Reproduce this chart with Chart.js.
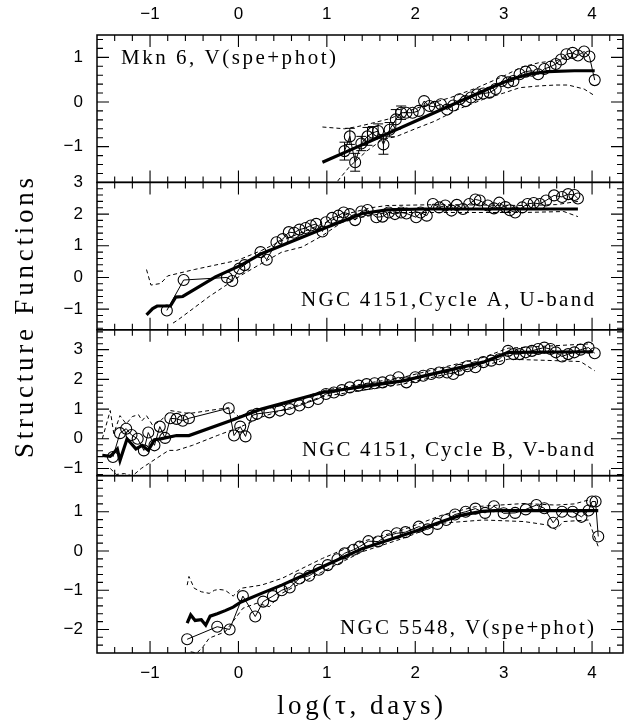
<!DOCTYPE html>
<html lang="en">
<head>
<meta charset="UTF-8">
<title>Structure Functions</title>
<script src="https://cdn.jsdelivr.net/npm/chart.js"></script>
<style>
  body { margin: 0; background: #fff; }
  #wrap { width: 633px; height: 726px; }
</style>
</head>
<body>
<div id="wrap"><canvas id="sfChart" width="633" height="726"></canvas></div>
<script>
// x range shared by all panels, log(tau, days)
const X_MIN = -1.6, X_MAX = 4.35;
const xTickValues = [-1, 0, 1, 2, 3, 4];

// ---- Mkn 6, V(spe+phot) ----
const mkn6X = [1.20,1.26,1.32,1.39,1.46,1.52,1.58,1.64,1.71,1.78,1.84,1.90,1.97,2.04,2.10,2.16,2.22,2.29,2.36,2.43,2.50,2.57,2.63,2.70,2.77,2.84,2.91,2.98,3.05,3.11,3.18,3.25,3.32,3.39,3.46,3.53,3.59,3.65,3.71,3.78,3.84,3.91,3.97,4.03];
const mkn6Y = [-1.10,-0.77,-1.35,-0.93,-0.77,-0.69,-0.65,-0.95,-0.62,-0.39,-0.24,-0.24,-0.24,-0.20,0.02,-0.09,-0.11,-0.05,-0.17,-0.08,0.06,0.02,0.10,0.17,0.19,0.21,0.29,0.47,0.44,0.47,0.62,0.68,0.70,0.62,0.74,0.79,0.85,0.95,1.07,1.10,1.04,1.13,1.02,0.49];
// error bars for the first points only
const mkn6Err = [0.20,0.18,0.20,0.16,0.20,0.14,0.16,0.22,0.16,0.22,0.15];
const mkn6Model = [[0.95,-1.35],[1.5,-0.87],[2.0,-0.43],[2.5,0.01],[2.9,0.36],[3.1,0.52],[3.3,0.63],[3.5,0.68],[3.8,0.70],[4.03,0.70]];
const mkn6Upper = [[0.95,-0.56],[1.2,-0.6],[1.35,-0.55],[1.5,-0.48],[1.7,-0.38],[1.9,-0.22],[2.1,-0.08],[2.4,0.1],[2.7,0.32],[3.0,0.58],[3.2,0.78],[3.4,0.88],[3.6,0.93],[3.72,1.0]];
const mkn6Lower = [[1.05,-2.05],[1.13,-1.75],[1.26,-1.44],[1.45,-1.1],[1.63,-0.84],[1.79,-0.77],[2.0,-0.6],[2.22,-0.43],[2.5,-0.15],[2.77,0.06],[3.0,0.2],[3.18,0.32],[3.4,0.36],[3.59,0.38],[3.73,0.38],[3.91,0.29],[4.03,0.14]];

// ---- NGC 4151, Cycle A, U-band ----
const ngcAX = [-0.81,-0.62,-0.13,-0.07,0.01,0.07,0.25,0.32,0.43,0.50,0.57,0.63,0.69,0.76,0.82,0.88,0.95,0.99,1.06,1.13,1.19,1.26,1.32,1.39,1.46,1.56,1.63,1.70,1.77,1.84,1.90,2.01,2.06,2.13,2.20,2.27,2.34,2.41,2.47,2.54,2.61,2.68,2.73,2.82,2.89,2.95,3.02,3.07,3.13,3.21,3.27,3.34,3.41,3.48,3.57,3.66,3.73,3.80,3.84];
const ngcAY = [-1.04,-0.08,0.0,-0.11,0.28,0.39,0.80,0.56,1.11,1.21,1.43,1.41,1.51,1.56,1.64,1.69,1.45,1.74,1.88,1.95,2.05,2.0,1.81,2.08,2.13,1.9,1.92,2.05,2.0,2.05,2.02,1.9,2.05,1.95,2.32,2.21,2.27,2.11,2.29,2.16,2.32,2.46,2.43,2.27,2.18,2.36,2.22,2.12,2.05,2.21,2.32,2.35,2.32,2.43,2.59,2.54,2.63,2.60,2.49];
const ngcAModel = [[-1.04,-1.18],[-0.97,-0.98],[-0.92,-0.9],[-0.77,-0.9],[-0.71,-0.62],[-0.63,-0.6],[-0.26,0.02],[0.03,0.39],[0.26,0.75],[0.49,1.01],[0.95,1.53],[1.40,2.02],[1.68,2.13],[2.09,2.16],[3.84,2.16]];
const ngcAUpper = [[-1.04,0.25],[-0.99,-0.24],[-0.88,-0.19],[-0.8,0.05],[-0.5,0.25],[-0.01,0.54],[0.26,0.85],[0.49,1.16],[0.95,1.69],[1.26,2.03],[1.5,2.2],[1.68,2.27],[2.31,2.3],[3.23,2.27],[3.6,2.3],[3.84,2.4]];
const ngcALower = [[-0.74,-1.44],[-0.68,-1.33],[-0.33,-0.6],[0.03,0.07],[0.26,0.44],[0.49,0.8],[0.72,0.96],[0.95,1.32],[1.17,1.74],[1.4,1.9],[1.68,2.05],[2.31,2.05],[3.23,2.05],[3.68,2.08],[3.84,1.92]];

// ---- NGC 4151, Cycle B, V-band ----
const ngcBX = [-1.42,-1.34,-1.27,-1.21,-1.14,-1.07,-1.02,-0.95,-0.89,-0.83,-0.77,-0.70,-0.63,-0.56,-0.11,-0.05,0.02,0.08,0.15,0.21,0.35,0.47,0.58,0.69,0.79,0.90,0.99,1.08,1.17,1.26,1.36,1.45,1.54,1.63,1.72,1.81,1.90,2.0,2.09,2.18,2.27,2.36,2.43,2.50,2.59,2.68,2.77,2.86,2.95,3.05,3.11,3.18,3.25,3.32,3.39,3.46,3.53,3.59,3.66,3.73,3.80,3.87,3.96,4.03];
const ngcBY = [-0.61,0.19,0.34,0.13,0.0,-0.39,0.21,-0.22,0.41,0.03,0.69,0.67,0.61,0.69,1.03,0.11,0.41,0.08,0.78,0.84,0.89,0.95,1.0,1.12,1.23,1.34,1.51,1.56,1.64,1.73,1.79,1.84,1.87,1.9,1.96,2.07,1.9,2.07,2.12,2.18,2.23,2.23,2.18,2.32,2.44,2.41,2.58,2.63,2.68,2.96,2.85,2.85,2.91,2.96,3.02,3.07,3.02,2.91,2.77,2.85,2.91,3.0,3.07,2.88];
const ngcBModel = [[-1.54,-0.56],[-1.45,-0.59],[-1.37,-0.34],[-1.34,-0.73],[-1.26,0.0],[-1.16,-0.34],[-1.09,-0.22],[-1.02,-0.39],[-0.95,-0.03],[-0.88,0.0],[-0.7,0.11],[-0.56,0.11],[-0.06,0.64],[0.26,1.0],[0.95,1.56],[1.86,1.95],[2.77,2.58],[3.05,2.91],[4.01,2.93]];
const ngcBUpper = [[-1.54,0.0],[-1.45,0.95],[-1.41,0.17],[-1.34,0.78],[-1.27,0.5],[-1.2,0.75],[-1.13,0.81],[-1.09,0.61],[-1.04,0.78],[-0.97,0.45],[-0.88,0.61],[-0.77,0.95],[-0.56,0.85],[-0.11,1.05],[0.0,0.75],[0.15,0.9],[0.49,1.12],[0.95,1.62],[1.86,2.07],[2.77,2.74],[3.05,3.05],[4.0,3.2]];
const ngcBLower = [[-1.45,-1.0],[-1.38,-1.2],[-1.29,-1.17],[-1.2,-1.25],[-1.1,-1.0],[-1.02,-0.84],[-0.79,-0.39],[-0.7,-0.39],[-0.52,-0.22],[-0.24,0.11],[0.03,0.41],[0.26,0.73],[0.95,1.42],[1.86,1.84],[2.77,2.46],[3.05,2.68],[3.59,2.63],[3.87,2.6],[4.03,2.29]];

// ---- NGC 5548, V(spe+phot) ----
const ngc5548X = [-0.58,-0.24,-0.10,0.05,0.19,0.28,0.39,0.49,0.58,0.69,0.80,0.91,1.01,1.12,1.20,1.30,1.37,1.47,1.58,1.68,1.79,1.89,2.04,2.14,2.25,2.35,2.45,2.57,2.68,2.79,2.89,3.0,3.13,3.25,3.37,3.46,3.56,3.66,3.78,3.88,3.96,4.0,4.04,4.07];
const ngc5548Y = [-2.25,-1.93,-2.0,-1.15,-1.67,-1.29,-1.15,-1.0,-0.93,-0.7,-0.63,-0.48,-0.36,-0.21,-0.06,0.03,0.11,0.25,0.24,0.39,0.45,0.48,0.62,0.55,0.69,0.79,0.93,1.0,1.08,0.97,1.14,0.96,0.97,1.06,1.17,1.09,0.72,1.0,1.0,0.87,1.03,1.26,1.26,0.37];
const ngc5548Model = [[-0.58,-1.84],[-0.54,-1.63],[-0.49,-1.77],[-0.42,-1.75],[-0.37,-1.89],[-0.32,-1.66],[-0.24,-1.6],[-0.15,-1.52],[-0.06,-1.43],[0.03,-1.3],[0.26,-1.08],[0.49,-0.87],[0.95,-0.4],[1.4,0.06],[1.86,0.4],[2.0,0.5],[2.31,0.76],[2.5,0.9],[2.75,1.01],[2.9,1.03],[4.07,1.03]];
const ngc5548Upper = [[-0.58,-0.87],[-0.56,-0.65],[-0.5,-0.95],[-0.42,-1.04],[-0.33,-1.08],[-0.27,-1.0],[-0.22,-0.98],[-0.15,-1.0],[-0.06,-1.15],[0.03,-0.95],[0.26,-0.87],[0.49,-0.7],[0.95,-0.19],[1.4,0.24],[1.86,0.54],[2.31,0.92],[2.68,1.13],[3.23,1.21],[3.59,1.17],[3.8,1.2],[3.96,1.3]];
const ngc5548Lower = [[-0.54,-2.57],[-0.47,-2.6],[-0.40,-2.44],[-0.33,-2.22],[-0.15,-2.06],[0.05,-1.46],[0.21,-1.33],[0.35,-1.42],[0.49,-1.08],[0.95,-0.53],[1.4,-0.02],[1.86,0.32],[2.31,0.71],[2.77,0.79],[3.23,0.75],[3.5,0.66],[3.59,0.55],[3.68,0.75],[3.96,0.79],[4.07,0.11]];

// panels top to bottom
const panels = [
  { id: 'y1', label: 'Mkn 6, V(spe+phot)', min: -1.8, max: 1.5, weight: 147.5,
    xs: mkn6X, ys: mkn6Y, model: mkn6Model, upper: mkn6Upper, lower: mkn6Lower,
    text: { x: 121, y: 58, w: 215, align: 'left' } },
  { id: 'y2', label: 'NGC 4151,Cycle A, U-band', min: -1.65, max: 3, weight: 147.5,
    xs: ngcAX, ys: ngcAY, model: ngcAModel, upper: ngcAUpper, lower: ngcALower,
    text: { x: 594, y: 300, w: 293, align: 'right' } },
  { id: 'y3', label: 'NGC 4151, Cycle B, V-band', min: -1.24, max: 3.67, weight: 146,
    xs: ngcBX, ys: ngcBY, model: ngcBModel, upper: ngcBUpper, lower: ngcBLower,
    text: { x: 594, y: 450, w: 292, align: 'right' } },
  { id: 'y4', label: 'NGC 5548, V(spe+phot)', min: -2.6, max: 1.92, weight: 177.5,
    xs: ngc5548X, ys: ngc5548Y, model: ngc5548Model, upper: ngc5548Upper, lower: ngc5548Lower,
    text: { x: 594, y: 628, w: 254, align: 'right' } }
];

const tickFont = { family: '"Liberation Sans", Arial, sans-serif', size: 17 };
const serif = '"Liberation Serif", "DejaVu Serif", serif';
const fmt = v => (v < 0 ? '\u2212' + Math.abs(v) : String(v));

function pairs(arr) { return arr.map(p => ({ x: p[0], y: p[1] })); }
function pts(xs, ys) { return xs.map((x, i) => ({ x: x, y: ys[i] })); }

const datasets = [];
panels.forEach(p => {
  const dashed = { borderColor: '#000', borderWidth: 1, borderDash: [4, 3], pointRadius: 0, showLine: true, yAxisID: p.id };
  datasets.push(Object.assign({ data: pairs(p.upper) }, dashed));
  datasets.push(Object.assign({ data: pairs(p.lower) }, dashed));
  datasets.push({ data: pairs(p.model), yAxisID: p.id, borderColor: '#000', borderWidth: 3.2, pointRadius: 0, showLine: true });
  datasets.push({ data: pts(p.xs, p.ys), yAxisID: p.id, borderColor: '#000', borderWidth: 1, showLine: true,
    pointRadius: 5.5, pointBorderWidth: 1.1, pointBorderColor: '#000', pointBackgroundColor: 'rgba(0,0,0,0)' });
});

function xAxis(pos, h) {
  return {
    type: 'linear', position: pos, min: X_MIN, max: X_MAX,
    grid: { display: false, drawTicks: false }, border: { display: false },
    ticks: { autoSkip: false, padding: 10, color: '#000', font: tickFont, callback: fmt, maxRotation: 0 },
    afterBuildTicks: s => { s.ticks = xTickValues.map(v => ({ value: v })); },
    afterFit: s => { s.height = h; }
  };
}

function yAxis(p) {
  return {
    type: 'linear', position: 'left', stack: 'sf', stackWeight: p.weight,
    min: p.min, max: p.max,
    grid: { display: false, drawTicks: false }, border: { display: false },
    ticks: { autoSkip: false, padding: 14, color: '#000', font: tickFont, callback: fmt },
    afterBuildTicks: s => {
      s.ticks = [];
      for (let v = Math.ceil(s.min); v <= Math.floor(s.max); v++) s.ticks.push({ value: v });
    },
    afterFit: s => { s.width = 97; }
  };
}

// build scales: y axes listed bottom-first so the stack is placed top-down y1..y4
const scales = { x: xAxis('bottom', 73), x2: xAxis('top', 35) };
panels.slice().reverse().forEach(p => { scales[p.id] = yAxis(p); });

// clip each dataset to its own panel
const panelClip = {
  id: 'panelClip',
  beforeDatasetDraw(chart, args) {
    const ys = args.meta.yScale, a = chart.chartArea, ctx = chart.ctx;
    ctx.save();
    ctx.beginPath();
    ctx.rect(a.left, ys.top, a.right - a.left, ys.bottom - ys.top);
    ctx.clip();
  },
  afterDatasetDraw(chart) { chart.ctx.restore(); }
};

// frames, inward ticks, error bars and texts
const decor = {
  id: 'decor',
  afterDatasetsDraw(chart) {
    const ctx = chart.ctx, a = chart.chartArea, xs = chart.scales.x;
    ctx.save();
    ctx.strokeStyle = '#000';

    // error bars on Mkn 6
    const y1 = chart.scales.y1;
    ctx.save();
    ctx.beginPath();
    ctx.rect(a.left, y1.top, a.right - a.left, y1.bottom - y1.top);
    ctx.clip();
    ctx.lineWidth = 1;
    mkn6Err.forEach((e, i) => {
      const px = xs.getPixelForValue(mkn6X[i]);
      const top = y1.getPixelForValue(mkn6Y[i] + e), bot = y1.getPixelForValue(mkn6Y[i] - e);
      ctx.beginPath();
      ctx.moveTo(px, top); ctx.lineTo(px, bot);
      ctx.moveTo(px - 5, top); ctx.lineTo(px + 5, top);
      ctx.moveTo(px - 5, bot); ctx.lineTo(px + 5, bot);
      ctx.stroke();
    });
    ctx.restore();

    panels.forEach(p => {
      const ys = chart.scales[p.id];
      ctx.lineWidth = 1.5;
      ctx.strokeRect(a.left, ys.top, a.right - a.left, ys.bottom - ys.top);
      ctx.lineWidth = 1.1;
      ctx.beginPath();
      for (let k = Math.ceil(X_MIN * 5); k <= Math.floor(X_MAX * 5); k++) {
        const v = k / 5, px = xs.getPixelForValue(v);
        if (px <= a.left + 1 || px >= a.right - 1) continue;
        const len = k % 5 === 0 ? 12 : 6;
        ctx.moveTo(px, ys.top); ctx.lineTo(px, ys.top + len);
        ctx.moveTo(px, ys.bottom); ctx.lineTo(px, ys.bottom - len);
      }
      for (let k = Math.ceil(p.min * 5); k <= Math.floor(p.max * 5); k++) {
        const v = k / 5, py = ys.getPixelForValue(v);
        if (py <= ys.top + 1 || py >= ys.bottom - 1) continue;
        const len = k % 5 === 0 ? 12 : 6;
        ctx.moveTo(a.left, py); ctx.lineTo(a.left + len, py);
        ctx.moveTo(a.right, py); ctx.lineTo(a.right - len, py);
      }
      ctx.stroke();
    });
    ctx.restore();
  },
  afterDraw(chart) {
    const ctx = chart.ctx, a = chart.chartArea;
    ctx.save();
    ctx.fillStyle = '#000';
    ctx.textBaseline = 'middle';
    ctx.font = '21px ' + serif;
    panels.forEach(p => spaced(ctx, p.label, p.text.x, p.text.y, p.text.w, p.text.align));

    ctx.font = '27px ' + serif;
    ctx.textBaseline = 'alphabetic';
    spaced(ctx, 'log(\u03c4, days)', (a.left + a.right) / 2, 714, 166, 'center');

    ctx.translate(33, 318);
    ctx.rotate(-Math.PI / 2);
    spaced(ctx, 'Structure Functions', 0, 0, 280, 'center');
    ctx.restore();
  }
};

// draw text stretched to a given width with letter spacing
function spaced(ctx, text, x, y, width, align) {
  ctx.letterSpacing = '0px';
  const w0 = ctx.measureText(text).width;
  const ls = (width - w0) / (text.length - 1);
  ctx.letterSpacing = ls + 'px';
  const x0 = align === 'right' ? x - width : align === 'center' ? x - width / 2 : x;
  ctx.textAlign = 'left';
  ctx.fillText(text, x0, y);
  ctx.letterSpacing = '0px';
}

new Chart(document.getElementById('sfChart'), {
  type: 'scatter',
  data: { datasets: datasets },
  options: {
    responsive: false,
    animation: false,
    layout: { padding: { left: 0, right: 10, top: 0, bottom: 0 } },
    plugins: { legend: { display: false }, tooltip: { enabled: false } },
    scales: scales
  },
  plugins: [panelClip, decor]
});
</script>
</body>
</html>
